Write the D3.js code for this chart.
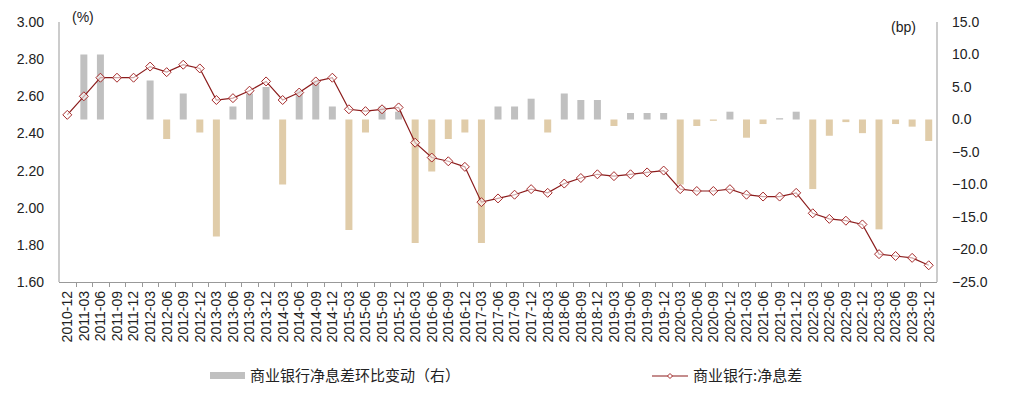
<!DOCTYPE html>
<html><head><meta charset="utf-8">
<script src="https://cdn.jsdelivr.net/npm/d3@7"></script>
<style>
body{margin:0;background:#fff;}
svg{display:block;font-family:"Liberation Sans",Arial,"Noto Sans CJK SC",sans-serif;}
</style></head>
<body><svg id="c" width="1014" height="406"></svg>
<script>
const categories = ["2010-12","2011-03","2011-06","2011-09","2011-12","2012-03","2012-06","2012-09","2012-12","2013-03","2013-06","2013-09","2013-12","2014-03","2014-06","2014-09","2014-12","2015-03","2015-06","2015-09","2015-12","2016-03","2016-06","2016-09","2016-12","2017-03","2017-06","2017-09","2017-12","2018-03","2018-06","2018-09","2018-12","2019-03","2019-06","2019-09","2019-12","2020-03","2020-06","2020-09","2020-12","2021-03","2021-06","2021-09","2021-12","2022-03","2022-06","2022-09","2022-12","2023-03","2023-06","2023-09","2023-12"];
const nim = [2.50,2.60,2.70,2.70,2.70,2.76,2.73,2.77,2.75,2.58,2.59,2.63,2.68,2.58,2.62,2.68,2.70,2.53,2.52,2.53,2.54,2.35,2.27,2.25,2.22,2.03,2.05,2.07,2.10,2.08,2.13,2.16,2.18,2.17,2.18,2.19,2.20,2.10,2.09,2.09,2.10,2.07,2.06,2.06,2.08,1.97,1.94,1.93,1.91,1.75,1.74,1.73,1.69];
const qoqChange = [null,10,10,0,0,6,-3,4,-2,-18,2,4,5,-10,4.5,6,2,-17,-2,2,1.2,-19,-8,-3,-2,-19,2,2,3.2,-2,4,3,3,-1,1,1,1,-10,-1,-0.2,1.2,-2.8,-0.7,0.2,1.2,-10.7,-2.5,-0.4,-2.1,-16.9,-0.7,-1.1,-3.3];
const leftTicks = [1.60,1.80,2.00,2.20,2.40,2.60,2.80,3.00];
const rightTicks = [-25,-20,-15,-10,-5,0,5,10,15];
const barLegend = "商业银行净息差环比变动（右）";
const lineLegend = "商业银行:净息差";

const svg = d3.select("#c");
const L = 59, R = 937, T = 22, B = 282;
const x = d3.scaleBand().domain(categories).range([L, R]).paddingInner(0).paddingOuter(0);
const yL = d3.scaleLinear().domain([1.6, 3.0]).range([B, T]);
const yR = d3.scaleLinear().domain([-25, 15]).range([B, T]);
const axisColor = "#999";
const bw = 7;

// bars
svg.append("g").selectAll("rect").data(categories.map((c,i)=>({c,v:qoqChange[i]})).filter(d=>d.v!==null && d.v!==0))
  .join("rect")
  .attr("x", d => x(d.c) + x.bandwidth()/2 - bw/2)
  .attr("width", bw)
  .attr("y", d => Math.min(yR(d.v), yR(0)))
  .attr("height", d => Math.max(Math.abs(yR(d.v) - yR(0)), 0.8))
  .attr("fill", d => d.v >= 0 ? "#c0c0c0" : "#e0cca9");

// axes lines
svg.append("line").attr("x1",L).attr("x2",L).attr("y1",T).attr("y2",B).attr("stroke",axisColor);
svg.append("line").attr("x1",R).attr("x2",R).attr("y1",T).attr("y2",B).attr("stroke",axisColor);

// bottom axis
const xAxis = d3.axisBottom(x).tickSize(0).tickPadding(0);
const gx = svg.append("g").attr("transform",`translate(0,${B})`).call(xAxis);
gx.select(".domain").attr("stroke",axisColor).attr("d",`M${L},0.5H${R}`);
gx.selectAll(".tick text").attr("transform","rotate(-90)").attr("x",-9).attr("y",0).attr("dy","0.35em")
  .style("text-anchor","end").attr("font-size",14).attr("fill","#222").attr("font-family","Liberation Sans, Arial");
// boundary ticks
svg.append("g").selectAll("line").data(d3.range(1, categories.length)).join("line")
  .attr("x1", i => Math.round(L + i*x.step())+0.5).attr("x2", i => Math.round(L + i*x.step())+0.5)
  .attr("y1", B).attr("y2", B+5).attr("stroke", axisColor);

// left axis
const gl = svg.append("g").attr("transform",`translate(${L},0)`)
  .call(d3.axisLeft(yL).tickValues(leftTicks).tickFormat(d3.format(".2f")).tickSize(0).tickPadding(15));
gl.select(".domain").remove();
gl.selectAll("text").attr("font-size",14).attr("fill","#222").attr("font-family","Liberation Sans, Arial");

// right axis
const gr = svg.append("g").attr("transform",`translate(${R},0)`)
  .call(d3.axisRight(yR).tickValues(rightTicks).tickFormat(d3.format(".1f")).tickSize(0).tickPadding(15));
gr.select(".domain").remove();
gr.selectAll("text").attr("font-size",14).attr("fill","#222").attr("font-family","Liberation Sans, Arial");

// unit labels
svg.append("text").attr("x",72).attr("y",17).attr("dy","0.35em").attr("font-size",14).attr("fill","#222").text("(%)");
svg.append("text").attr("x",891).attr("y",27).attr("dy","0.35em").attr("font-size",14).attr("fill","#222").text("(bp)");

// line
const pts = categories.map((c,i)=>({c,v:nim[i]}));
svg.append("path").datum(pts)
  .attr("d", d3.line().x(d=>x(d.c)+x.bandwidth()/2).y(d=>yL(d.v)))
  .attr("fill","none").attr("stroke","#8b1c1c").attr("stroke-width",1.2);
const diamond = s => `M0,${-s}L${s},0L0,${s}L${-s},0Z`;
svg.append("g").selectAll("path").data(pts).join("path")
  .attr("transform", d=>`translate(${x(d.c)+x.bandwidth()/2},${yL(d.v)})`)
  .attr("d", diamond(4.5)).attr("fill","#fff").attr("fill-opacity",0.6).attr("stroke","#a52a2a").attr("stroke-width",1);

// legend
svg.append("rect").attr("x",210).attr("y",372).attr("width",35).attr("height",7).attr("fill","#c0c0c0");
svg.append("text").attr("x",250).attr("y",376).attr("dy","0.35em").attr("font-size",15)
  .attr("font-family","Noto Sans CJK SC").attr("fill","#222").text(barLegend);
svg.append("line").attr("x1",652).attr("x2",688).attr("y1",376).attr("y2",376).attr("stroke","#8b1c1c").attr("stroke-width",1.2);
svg.append("path").attr("transform","translate(670,376)").attr("d",diamond(2.5)).attr("fill","#fff").attr("stroke","#a52a2a");
svg.append("text").attr("x",693).attr("y",376).attr("dy","0.35em").attr("font-size",15)
  .attr("font-family","Noto Sans CJK SC").attr("fill","#222").text(lineLegend);
</script></body></html>
